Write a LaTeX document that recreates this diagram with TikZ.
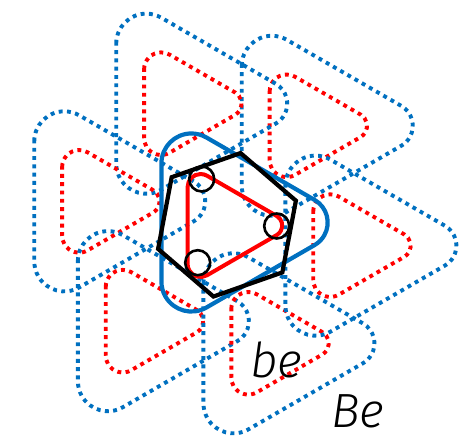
\documentclass[tikz,border=0pt]{standalone}
\usepackage{fontspec}
\IfFontExistsTF{Fira Sans Light}{\newfontfamily\labelfont{Fira Sans Light}}{\newfontfamily\labelfont{Liberation Sans}}
\usetikzlibrary{calc}
\definecolor{obl}{RGB}{0,112,192}
\definecolor{ord}{RGB}{255,0,0}
\tikzset{
  bluedots/.style={draw=obl,line width=3.9pt,dash pattern=on 3.9pt off 4.4pt},
  reddots/.style={draw=ord,line width=3.9pt,dash pattern=on 3.9pt off 4.4pt},
  bluesolid/.style={draw=obl,line width=4.2pt,line join=round},
  redsolid/.style={draw=ord,line width=4pt,line join=round},
  hexline/.style={draw=black,line width=4.2pt,line join=miter},
  ringline/.style={draw=black,line width=2.6pt},
  lbl/.style={font=\labelfont\itshape\fontsize{48}{48}\selectfont,inner sep=0pt}
}
% rounded equilateral triangle pointing right: #1 style, #2 cx, #3 cy, #4 side, #5 rA (left corners), #6 rB (right corner)
\newcommand{\rtri}[6]{%
  \pgfmathsetmacro\rh{0.8660254*#4}%
  \pgfmathsetmacro\ax{#2-\rh/3+#5}%
  \pgfmathsetmacro\ay{#3-#4/2+1.7320508*#5}%
  \pgfmathsetmacro\bx{#2+2*\rh/3-2*#6}%
  \pgfmathsetmacro\cy{#3+#4/2-1.7320508*#5}%
  \draw[#1] (\ax-#5,\ay) arc[start angle=180,end angle=300,radius=#5]
    -- ($(\bx,#3)+(-60:#6)$) arc[start angle=-60,end angle=60,radius=#6]
    -- ($(\ax,\cy)+(60:#5)$) arc[start angle=60,end angle=180,radius=#5] -- cycle;
}
\begin{document}
\begin{tikzpicture}[x=1pt,y=-1pt]
\useasboundingbox (0,0) rectangle (462,441);
% six outer dotted shapes
\foreach \k in {0,...,5}{
  \pgfmathsetmacro\ang{50+60*\k}
  \pgfmathsetmacro\px{224.5+127.5*cos(\ang)}
  \pgfmathsetmacro\py{223.5-127.5*sin(\ang)}
  \rtri{bluedots}{\px}{\py}{224}{30}{23}
  \rtri{reddots}{\px}{\py}{127.5}{17}{13}
}
% central solid shapes
\rtri{bluesolid}{225.5}{222.5}{222}{30}{26}
\rtri{redsolid}{222.8}{225.5}{122}{13}{11}
% hexagon
\foreach \k in {1,...,6}{
  \coordinate (h\k) at ($(227,224.8)+({-(19.3+60*\k)}:73)$);
}
\draw[hexline] (h1) -- (h2) -- (h3) -- (h4) -- (h5) -- (h6) -- cycle;
% small circles
\draw[ringline] (201.7,179) circle[radius=12.5];
\draw[ringline] (276.7,226) circle[radius=12.5];
\draw[ringline] (197.7,262.7) circle[radius=12.5];
% labels
\node[lbl,anchor=base west] (be) at (250,377) {be};
\node[lbl,anchor=base west] (Be) at (331,427) {Be};
\end{tikzpicture}
\end{document}
